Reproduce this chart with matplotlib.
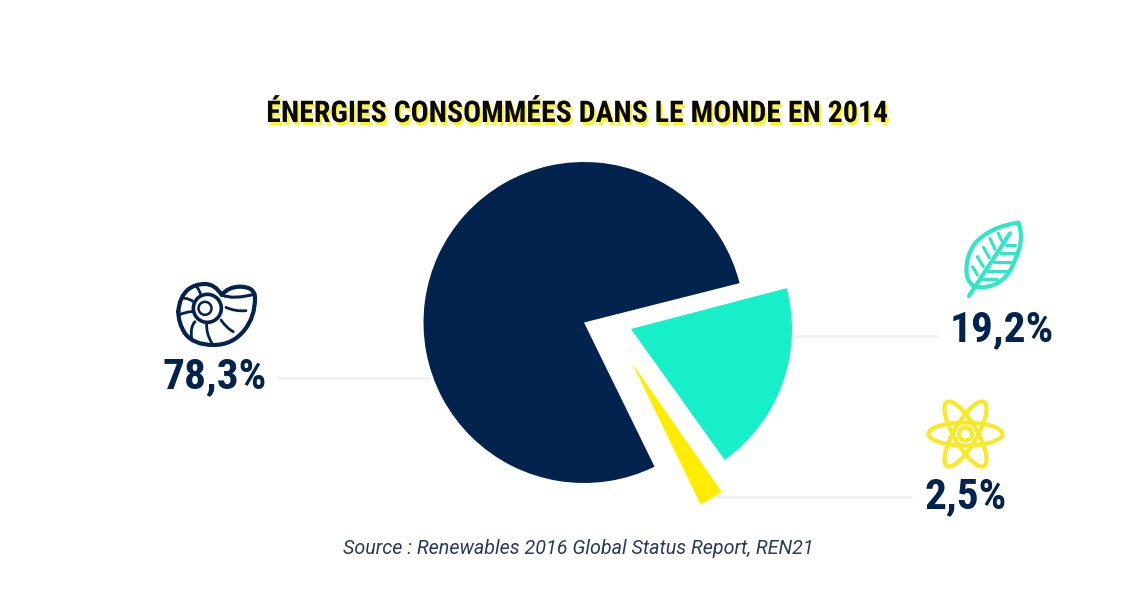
"""Energy consumption pie, rebuilt on a pixel-sized canvas."""

import matplotlib
matplotlib.use("Agg")
import matplotlib.pyplot as plt
import matplotlib.patheffects as pe
from matplotlib.patches import Wedge, Circle, Ellipse, PathPatch
from matplotlib.path import Path

W, H = 1148, 604
NAVY = "#03234f"
TEAL = "#17efc8"
YELLOW = "#ffec00"
ICON_TEAL = "#2fe6c5"
ICON_YELLOW = "#f9e826"
GUIDE = "#f1f1f1"

# ---------------------------------------------------------------------------
# Data
# ---------------------------------------------------------------------------

labels = ["78,3%", "19,2%", "2,5%"]
shares = [78.3, 19.2, 2.5]
title = "ÉNERGIES CONSOMMÉES DANS LE MONDE EN 2014"
source = "Source : Renewables 2016 Global Status Report, REN21"

NARROW = ["Roboto Condensed", "Barlow Condensed", "Roboto", "DejaVu Sans"]


def Y(y):
    """Image row -> axes y."""
    return H - y


def stroke(ax, pts, color, lw, curved=False):
    """Polyline or chain of quadratic curves through image coordinates."""
    verts = [(x, Y(y)) for x, y in pts]
    if curved:
        codes = [Path.MOVETO] + [Path.CURVE3] * (len(verts) - 1)
    else:
        codes = [Path.MOVETO] + [Path.LINETO] * (len(verts) - 1)
    ax.add_patch(PathPatch(Path(verts, codes), fill=False, edgecolor=color,
                           lw=lw, capstyle="round", joinstyle="round"))


def draw_shell(ax):
    ox, oy = 150, 270

    def z(points):
        return [(ox + a / 3, oy + b / 3) for a, b in points]

    outer = [(85, 125), (88, 80), (115, 58), (135, 42), (165, 42), (195, 42),
             (215, 75), (235, 50), (270, 50), (315, 50), (315, 85), (315, 140),
             (285, 178), (250, 225), (190, 225), (130, 225), (105, 190),
             (85, 160), (85, 125)]
    stroke(ax, z(outer), NAVY, 3.0, curved=True)
    stroke(ax, z([(215, 75), (250, 90), (315, 72)]), NAVY, 2.2, curved=True)
    stroke(ax, z([(228, 112), (255, 125), (288, 122)]), NAVY, 2.0, curved=True)
    stroke(ax, z([(213, 150), (230, 175), (250, 185)]), NAVY, 2.0, curved=True)
    stroke(ax, z([(170, 160), (168, 190), (185, 218)]), NAVY, 2.0, curved=True)
    stroke(ax, z([(135, 155), (120, 170), (125, 205)]), NAVY, 2.0, curved=True)
    stroke(ax, z([(128, 125), (105, 125), (88, 135)]), NAVY, 2.0, curved=True)
    stroke(ax, z([(130, 95), (118, 85), (102, 85)]), NAVY, 2.0, curved=True)
    stroke(ax, z([(152, 75), (150, 62), (140, 50)]), NAVY, 2.0, curved=True)
    ax.add_patch(Circle((ox + 172 / 3, Y(oy + 115 / 3)), 14, fill=False,
                        edgecolor=NAVY, lw=2.6))
    ax.add_patch(Circle((ox + 165 / 3, Y(oy + 115 / 3)), 6.5, fill=False,
                        edgecolor=NAVY, lw=1.8))


def draw_leaf(ax):
    ox, oy = 900, 210

    def z(points):
        return [(ox + a / 3, oy + b / 3) for a, b in points]

    outline = [(355, 38), (270, 50), (225, 100), (195, 140), (200, 190),
               (205, 235), (250, 232), (320, 225), (345, 150), (375, 90),
               (355, 38)]
    stroke(ax, z(outline), ICON_TEAL, 3.0, curved=True)
    stroke(ax, z([(207, 258), (330, 70)]), ICON_TEAL, 3.0)
    for a, b in [((232, 195), (218, 170)), ((250, 170), (232, 140)),
                 ((268, 143), (250, 112)), ((285, 118), (270, 85)),
                 ((305, 92), (295, 70))]:
        stroke(ax, z([a, b]), ICON_TEAL, 2.2)
    for a, b in [((240, 208), (290, 208)), ((262, 182), (328, 182)),
                 ((282, 155), (335, 155)), ((300, 130), (345, 130)),
                 ((318, 105), (345, 105))]:
        stroke(ax, z([a, b]), ICON_TEAL, 2.2)


def draw_atom(ax):
    cx, cy = 965.5, 434
    for ang in (0, 60, -60):
        ax.add_patch(Ellipse((cx, Y(cy)), 74, 23, angle=ang, fill=False,
                             edgecolor=ICON_YELLOW, lw=3.0))
    ax.add_patch(Circle((cx, Y(cy)), 6.5, fill=False,
                        edgecolor=ICON_YELLOW, lw=3.0))


# ---------------------------------------------------------------------------
# Figure
# ---------------------------------------------------------------------------

fig = plt.figure(figsize=(W / 100, H / 100), dpi=100, facecolor="white")
ax = fig.add_axes([0, 0, 1, 1])
ax.set_xlim(0, W)
ax.set_ylim(0, H)
ax.axis("off")

# guide lines behind the pie
for x0, x1, y in [(278, 430, 378), (790, 938, 336), (715, 912, 497)]:
    ax.plot([x0, x1], [Y(y), Y(y)], color=GUIDE, lw=2, zorder=1,
            solid_capstyle="butt")

# wedges, each with its own apex; angles come from the shares
deg = [s * 3.6 for s in shares]
navy_start = 14.2
teal_end = 14.7
teal_start = teal_end - deg[1]
yellow_end = teal_start - 0.7
yellow_start = yellow_end - deg[2]

ax.add_patch(Wedge((584, Y(322.5)), 160.5, navy_start, navy_start + deg[0],
                   color=NAVY, lw=0, zorder=2))
ax.add_patch(Wedge((631, Y(329)), 161, teal_start, teal_end,
                   color=TEAL, lw=0, zorder=2))
ax.add_patch(Wedge((632, Y(363)), 157, yellow_start, yellow_end,
                   color=YELLOW, lw=0, zorder=2))

draw_shell(ax)
draw_leaf(ax)
draw_atom(ax)

ax.text(578, Y(114), title, ha="center", va="center", family=NARROW,
        weight="bold", fontsize=21.5, color="#0a0a0a",
        path_effects=[pe.withSimplePatchShadow(offset=(1.5, -2.5),
                                                shadow_rgbFace="#fff22e",
                                                alpha=1.0)])

for label, x, y in zip(labels, [215, 1002, 966], [377, 330, 497]):
    ax.text(x, Y(y), label, ha="center", va="center", family=NARROW,
            weight="bold", fontsize=31.2, color=NAVY)

ax.text(578, Y(548), source, ha="center", va="center", family="Roboto",
        style="italic", weight="normal", fontsize=14.2, color="#2a3a5c")

fig.savefig("out.png", dpi=100)
plt.close(fig)
